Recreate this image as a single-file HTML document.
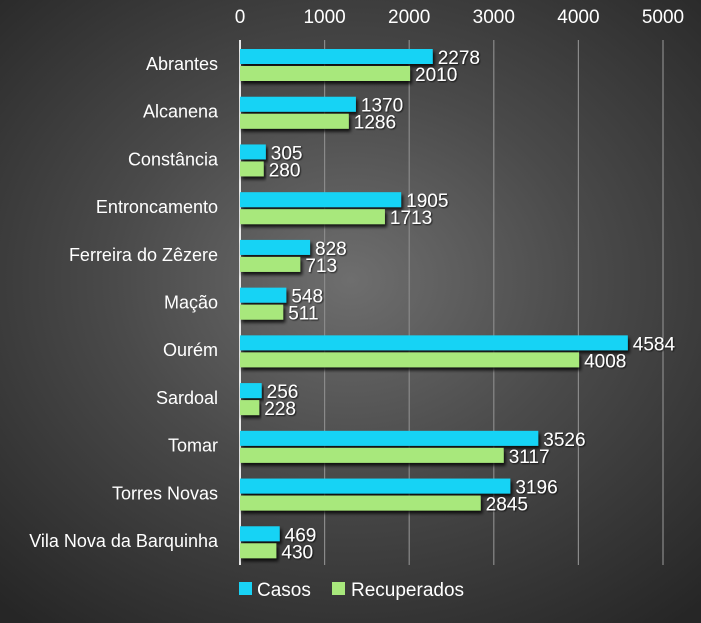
<!DOCTYPE html>
<html><head><meta charset="utf-8"><style>
html,body{margin:0;padding:0;width:701px;height:623px;overflow:hidden;}
body{background:radial-gradient(ellipse 75% 70% at 50% 45%,#6e6e6e 0%,#4a4a4a 45%,#262626 100%);}
svg text{font-family:"Liberation Sans",sans-serif;fill:#fff;}
</style></head><body>
<svg id="chart" width="701" height="623" xmlns="http://www.w3.org/2000/svg">
<defs><filter id="sh" x="-5%" y="-20%" width="115%" height="160%"><feDropShadow dx="2" dy="3" stdDeviation="1.5" flood-color="#000" flood-opacity="0.8"/></filter>
<filter id="ts"><feDropShadow dx="1" dy="1" stdDeviation="0.8" flood-color="#000" flood-opacity="0.7"/></filter></defs>
<g id="grid"></g><g id="bars"></g><g id="labels"></g>
<g>
<rect x="239" y="582" width="13" height="13" fill="#19d3f5"/>
<text x="257" y="596" font-size="19">Casos</text>
<rect x="332" y="582" width="13" height="13" fill="#a8e87c"/>
<text x="351" y="596" font-size="19">Recuperados</text>
</g>
</svg>
<script>
const categories=["Abrantes","Alcanena","Constância","Entroncamento","Ferreira do Zêzere","Mação","Ourém","Sardoal","Tomar","Torres Novas","Vila Nova da Barquinha"];
const casos=[2278,1370,305,1905,828,548,4584,256,3526,3196,469];
const recuperados=[2010,1286,280,1713,713,511,4008,228,3117,2845,430];
const ticks=[0,1000,2000,3000,4000,5000];
const NS="http://www.w3.org/2000/svg";
const x0=240,x1=663,maxV=5000,plotTop=40,plotBottom=565;
const band=(plotBottom-plotTop)/categories.length;
const xs=v=>x0+(v/maxV)*(x1-x0);
function mk(tag,attrs,parent){const e=document.createElementNS(NS,tag);for(const k in attrs)e.setAttribute(k,attrs[k]);parent.appendChild(e);return e;}
const grid=document.getElementById('grid'),bars=document.getElementById('bars'),labels=document.getElementById('labels');
ticks.forEach(t=>{
 const l=mk('line',{x1:xs(t),x2:xs(t),y1:plotTop,y2:plotBottom,stroke:t===0?'#e8e8e8':'#8a8a8a','stroke-width':t===0?2:1.2},grid);
 
 
 const tx=mk('text',{x:xs(t),y:23,'font-size':19,'text-anchor':'middle'},labels);
 tx.textContent=t;
 
 
});
categories.forEach((c,i)=>{
 const by=plotTop+i*band;
 const cl=mk('text',{x:218,y:by+band/2+6,'font-size':18,'text-anchor':'end'},labels);
 cl.textContent=c;
 
 
 [[casos,'#19d3f5',9,'casos'],[recuperados,'#a8e87c',26,'recuperados']].forEach(([arr,col,off,nm])=>{
  const v=arr[i];
  const r=mk('rect',{x:x0,y:by+off,width:xs(v)-x0,height:15,fill:col,filter:'url(#sh)'},bars);
  
  
  const vt=mk('text',{x:xs(v)+5,y:by+off+15,'font-size':19,filter:'url(#ts)'},labels);
  vt.textContent=v;
  
  
 });
});
</script>
</body></html>
